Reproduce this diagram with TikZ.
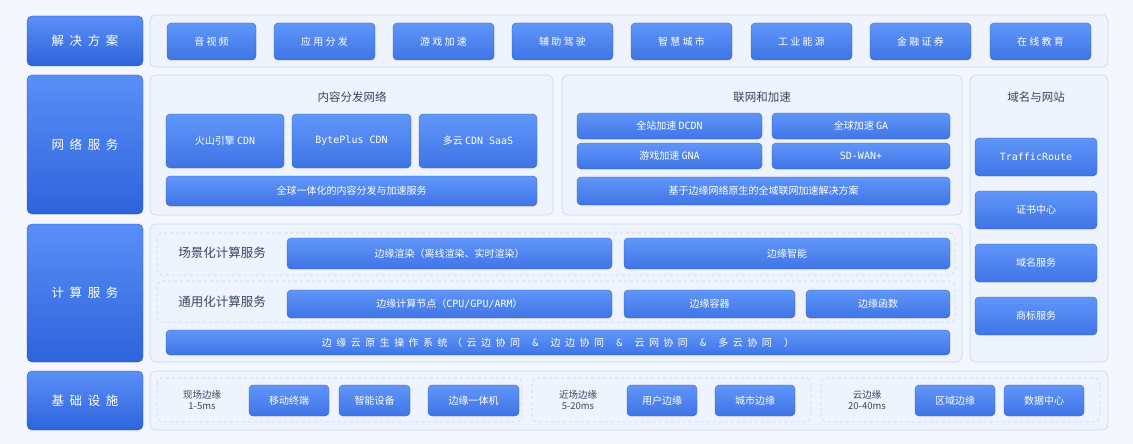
\documentclass[tikz,border=0pt]{standalone}
\usepackage{fontspec}
\setmainfont{Noto Sans CJK SC}
\newfontfamily\monof{DejaVu Sans Mono}
\begin{document}
\begin{tikzpicture}[x=1pt,y=-1pt,
 side/.style={rounded corners=5pt,top color=sideT,bottom color=sideB,draw=sideB!80!black,line width=0.3pt},
 panel/.style={rounded corners=6pt,fill=panelF,draw=panelD,line width=0.6pt},
 dpanel/.style={rounded corners=6pt,draw=panelD,dashed,line width=0.6pt},
 btn/.style={rounded corners=4pt,top color=btnT,bottom color=btnB,draw=btnB!85!black,line width=0.3pt},
 lbl/.style={text=white,font=\fontsize{12.5}{14}\selectfont},
 bt/.style={text=white,font=\fontsize{10}{12}\selectfont},
 tt/.style={text=titleC,font=\fontsize{11.5}{13}\selectfont}]
\definecolor{sideT}{HTML}{5A8EF7}\definecolor{sideB}{HTML}{2E64DC}
\definecolor{btnT}{HTML}{6096F9}\definecolor{btnB}{HTML}{3F74E6}
\definecolor{panelF}{HTML}{EEF3FD}\definecolor{panelD}{HTML}{C8D7F3}
\definecolor{bgC}{HTML}{F4F7FD}\definecolor{titleC}{HTML}{3A4560}
\fill[bgC] (0,0) rectangle (1133,444);
\useasboundingbox (0,0) rectangle (1133,444);
% side labels
\foreach \n/\a/\b/\t in {s1/16/66/解 \ 决 \ 方 \ 案, s2/75/214/网 \ 络 \ 服 \ 务, s3/224/362/计 \ 算 \ 服 \ 务, s4/371/430/基 \ 础 \ 设 \ 施}{
 \draw[side] (27,\a) rectangle (143,\b);
 \node[lbl] (\n) at (85,{(\a+\b)/2}) {\t};}
% row 1
\draw[panel] (150,15) rectangle (1108,67);
\foreach \n/\a/\b/\t in {a1/167/256/音 视 频, a2/274/375/应 用 分 发, a3/393/494/游 戏 加 速, a4/512/613/辅 助 驾 驶, a5/631/732/智 慧 城 市, a6/751/852/工 业 能 源, a7/870/971/金 融 证 券, a8/990/1091/在 线 教 育}{
 \draw[btn] (\a,23) rectangle (\b,60);
 \node[bt] (\n) at ({(\a+\b)/2},41.5) {\t};}
% row 2 CDN
\draw[panel] (150,75) rectangle (553,215);
\node[tt] (cdnt) at (352,97) {内容分发网络};
\foreach \n/\a/\b/\t in {c1/166/284/火山引擎 {\monof CDN}, c2/292/411/{\monof BytePlus CDN}, c3/419/537/多云 {\monof CDN SaaS}}{
 \draw[btn] (\a,114) rectangle (\b,168);
 \node[bt] (\n) at ({(\a+\b)/2},141) {\t};}
\draw[btn] (166,176) rectangle (537,206);
\node[bt] (c4) at (351.5,191) {全球一体化的内容分发与加速服务};
% 联网和加速
\draw[panel] (562,75) rectangle (962,215);
\node[tt] (nett) at (762,97) {联网和加速};
\foreach \n/\a/\b/\y/\t in {n1/577/762/113/全站加速 {\monof DCDN}, n2/772/950/113/全球加速 {\monof GA}, n3/577/762/143/游戏加速 {\monof GNA}, n4/772/950/143/{\monof SD-WAN+}}{
 \draw[btn] (\a,\y) rectangle (\b,\y+26);
 \node[bt] (\n) at ({(\a+\b)/2},\y+13) {\t};}
\draw[btn] (577,177) rectangle (950,205);
\node[bt] (n5) at (763.5,191) {基于边缘网络原生的全域联网加速解决方案};
% 域名与网站
\draw[panel] (970,75) rectangle (1108,362);
\node[tt] (dt) at (1036,97) {域名与网站};
\foreach \n/\y/\t in {d1/138/{\monof TrafficRoute}, d2/191/证书中心, d3/244/域名服务, d4/297/商标服务}{
 \draw[btn] (975,\y) rectangle (1097,\y+38);
 \node[bt] (\n) at (1036,\y+19) {\t};}
% row 3 compute
\draw[panel] (150,224) rectangle (962,362);
\draw[dpanel] (157,233) rectangle (955,275);
\draw[dpanel] (157,281) rectangle (955,322);
\node[tt,font=\fontsize{12.5}{14}\selectfont] (k1) at (222,253) {场景化计算服务};
\node[tt,font=\fontsize{12.5}{14}\selectfont] (k2) at (222,302) {通用化计算服务};
\draw[btn] (287,238) rectangle (612,269); \node[bt] (e1) at (449.5,253.5) {边缘渲染（离线渲染、实时渲染）};
\draw[btn] (624,238) rectangle (950,269); \node[bt] (e2) at (787,253.5) {边缘智能};
\draw[btn] (287,290) rectangle (612,318); \node[bt] (e3) at (449.5,304) {边缘计算节点（{\monof CPU/GPU/ARM}）};
\draw[btn] (624,290) rectangle (795,318); \node[bt] (e4) at (709.5,304) {边缘容器};
\draw[btn] (806,290) rectangle (950,318); \node[bt] (e5) at (878,304) {边缘函数};
\draw[btn] (166,330) rectangle (950,355);
\node[bt] (e6) at (558,342.5) {边 \ 缘 \ 云 \ 原 \ 生 \ 操 \ 作 \ 系 \ 统 \ （ \ 云 \ 边 \ 协 \ 同 \quad {\monof\&} \quad 边 \ 边 \ 协 \ 同 \quad {\monof\&} \quad 云 \ 网 \ 协 \ 同 \quad {\monof\&} \quad 多 \ 云 \ 协 \ 同 \quad ）};
% row 4
\draw[panel] (150,371) rectangle (1108,430);
\draw[dpanel] (157,378) rectangle (522,422);
\draw[dpanel] (532,378) rectangle (811,422);
\draw[dpanel] (821,378) rectangle (1100,422);
\node[tt,font=\fontsize{9.5}{11}\selectfont,align=center] (g1) at (202,400) {现场边缘\\1-5ms};
\node[tt,font=\fontsize{9.5}{11}\selectfont,align=center] (g2) at (578,400) {近场边缘\\5-20ms};
\node[tt,font=\fontsize{9.5}{11}\selectfont,align=center] (g3) at (867,400) {云边缘\\20-40ms};
\foreach \n/\a/\b/\t in {f1/249/329/移动终端, f2/339/410/智能设备, f3/428/519/边缘一体机, f4/627/697/用户边缘, f5/715/795/城市边缘, f6/915/995/区域边缘, f7/1004/1084/数据中心}{
 \draw[btn] (\a,385) rectangle (\b,416);
 \node[bt] (\n) at ({(\a+\b)/2},400.5) {\t};}
\end{tikzpicture}
\end{document}
